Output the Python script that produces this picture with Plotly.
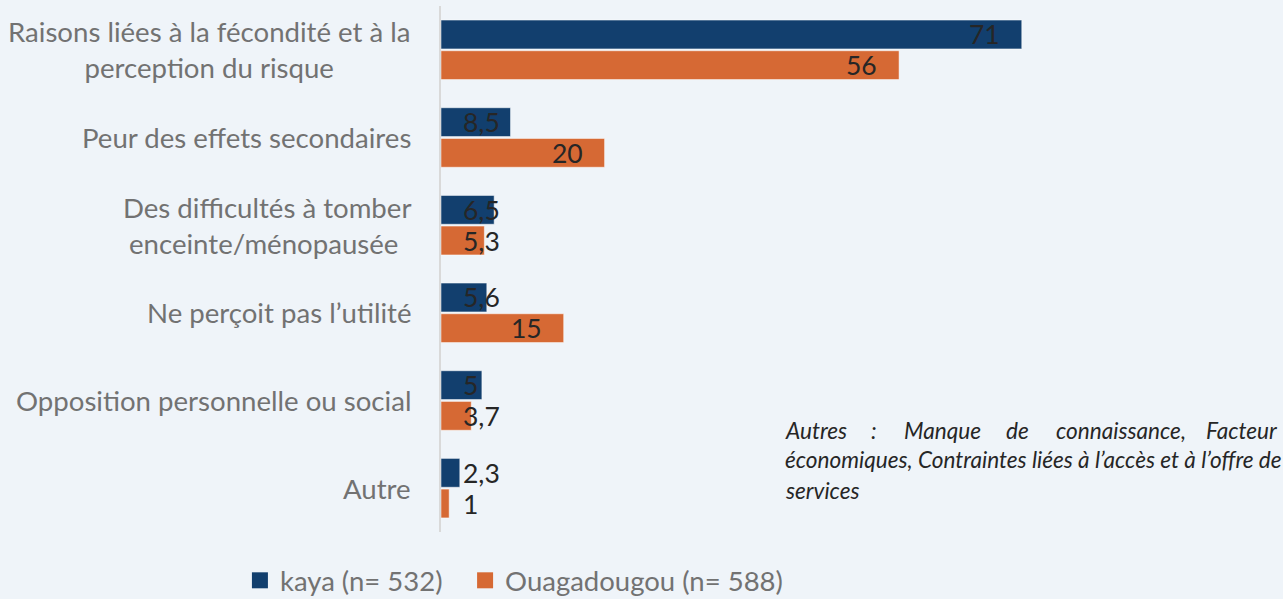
import plotly.graph_objects as go

categories = [
    "Raisons liées à la fécondité et à la<br>perception du risque",
    "Peur des effets secondaires",
    "Des difficultés à tomber<br>enceinte/ménopausée ",
    "Ne perçoit pas l’utilité",
    "Opposition personnelle ou social",
    "Autre",
]
kaya = [71, 8.5, 6.5, 5.6, 5, 2.3]
ouaga = [56, 20, 5.3, 15, 3.7, 1]
series_names = ["kaya (n= 532)", "Ouagadougou (n= 588)"]
# note: first line is justified in the source, so its words are placed one by one
note_words = ["Autres", ":", "Manque", "de", "connaissance,", "Facteur"]
note_word_px = [783, 869, 902, 1004, 1054, 1280]
note_lines = [
    "économiques, Contraintes liées à l’accès et à l’offre de",
    "services",
]

BLUE = "#123F6E"
ORANGE = "#D66934"
BG = "#EFF4F9"
GREY = "#727272"
FONT = "Lato"

ML, MR, MT, MB = 441, 24, 6, 67
W, H = 1283, 599
PW = W - ML - MR
PH = H - MT - MB

ids = list(range(len(categories)))

fig = go.Figure()
legend_ids = ["legend", "legend2"]
for name, vals, color, lg in [(series_names[0], kaya, BLUE, legend_ids[0]),
                              (series_names[1], ouaga, ORANGE, legend_ids[1])]:
    fig.add_trace(go.Bar(
        y=ids, x=vals, name=name, orientation="h", showlegend=False,
        marker=dict(color=color, line=dict(color="rgba(255,255,255,0.5)", width=1)),
        hoverinfo="skip",
    ))
    # legend entry with a bigger square swatch
    fig.add_trace(go.Scatter(
        x=[None], y=[None], mode="markers", name=name, legend=lg,
        marker=dict(symbol="square", size=16, color=color),
    ))

# category labels, centred lines, right-anchored next to the axis
for i, cat in enumerate(categories):
    fig.add_annotation(
        x=0, y=i, xref="paper", yref="y", text=cat, showarrow=False,
        xanchor="right", xshift=-28, align="center",
        font=dict(family=FONT, size=27.6, color=GREY),
    )

# value labels: inside end, clamped to the bar base when too short
for vals, off in [(kaya, -0.175), (ouaga, 0.175)]:
    for i, v in enumerate(vals):
        txt = f"{v:g}".replace(".", ",")
        if v > 10:
            kw = dict(x=v, xanchor="right", xshift=-20)
        else:
            kw = dict(x=0, xanchor="left", xshift=20)
        fig.add_annotation(
            y=i + off, yref="y", xref="x", text=txt, showarrow=False,
            font=dict(family=FONT, size=26.5, color="#262626"), **kw,
        )

note_font = dict(family=FONT, size=22.6, color="#262626")
y1 = (MT + PH - 430) / PH
for k, (word, px) in enumerate(zip(note_words, note_word_px)):
    fig.add_annotation(
        x=(px - ML) / PW, y=y1, xref="paper", yref="paper",
        text=f"<i>{word}</i>", showarrow=False,
        xanchor="right" if k == len(note_words) - 1 else "left", yanchor="middle",
        font=note_font,
    )
for j, line in enumerate(note_lines):
    fig.add_annotation(
        x=(783 - ML) / PW, y=(MT + PH - 460 - 30 * j) / PH, xref="paper", yref="paper",
        text=f"<i>{line}</i>", showarrow=False, xanchor="left", yanchor="middle",
        font=note_font,
    )

legend_style = dict(
    orientation="h", xref="container", yref="container",
    y=0.031, xanchor="left", yanchor="middle",
    font=dict(family=FONT, size=27.5, color=GREY),
    bgcolor="rgba(0,0,0,0)", itemclick=False,
)
fig.update_layout(
    width=W, height=H,
    paper_bgcolor=BG, plot_bgcolor=BG,
    margin=dict(l=ML, r=MR, t=MT, b=MB),
    barmode="group", bargap=0.3, bargroupgap=0.06,
    showlegend=True,
    legend=dict(x=0.187, **legend_style),
    legend2=dict(x=0.3625, **legend_style),
    font=dict(family=FONT),
)
fig.update_xaxes(range=[0, 100], visible=False, showgrid=False, zeroline=False)
fig.update_yaxes(
    autorange="reversed", showticklabels=False, showgrid=False,
    zeroline=False, showline=True, linecolor="#D9D9D9", linewidth=2,
    tickvals=ids,
)

fig.write_html(
    "out.html",
    config={"displayModeBar": False},
    post_script="document.body.style.margin='0px';",
)
